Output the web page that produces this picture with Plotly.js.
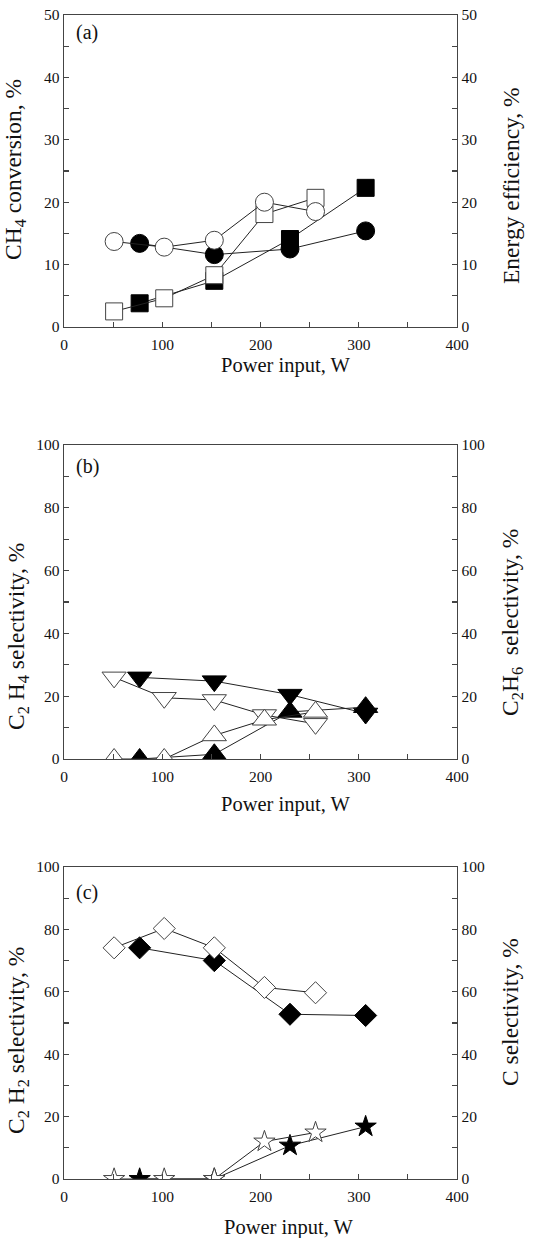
<!DOCTYPE html>
<html><head><meta charset="utf-8">
<script src="https://cdn.plot.ly/plotly-3.0.1.min.js"></script>
<style>html,body{margin:0;padding:0;background:#fff;}#chart{width:541px;height:1238px;}</style>
</head><body><div id="chart"></div>
<script>
// ---- data ----
const powerOpen = [51, 102, 153, 204, 256];
const powerFilled = [77, 153, 230, 307];

// panel (a)
const ch4ConvOpen = [2.5, 4.6, 8.3, 18.1, 20.7];
const ch4ConvFilled = [3.8, 7.4, 14.1, 22.3];
const energyEffOpen = [13.7, 12.8, 13.9, 20.0, 18.5];
const energyEffFilled = [13.4, 11.6, 12.5, 15.4];

// panel (b)
const c2h4SelOpen = [26.0, 19.5, 18.8, 14.0, 11.2];
const c2h4SelFilled = [26.0, 24.8, 20.5, 14.5];
const c2h6SelOpen = [0, 0, 7.5, 12.5, 15.0];
const c2h6SelFilled = [0, 1.5, 15.0, 16.5];

// panel (c)
const c2h2SelOpen = [74.1, 80.3, 74.1, 61.4, 59.7];
const c2h2SelFilled = [74.1, 70.0, 52.8, 52.4];
const cSelOpen = [0, 0, 0, 12.0, 14.9];
const cSelFilled = [0, 0, 10.7, 16.8];

const panelLabels = ['(a)', '(b)', '(c)'];
const xTitle = 'Power input, W';
const yTitlesLeft = ['CH<sub>4</sub> conversion, %', 'C<sub>2</sub> H<sub>4</sub> selectivity, %', 'C<sub>2</sub> H<sub>2</sub> selectivity, %'];
const yTitlesRight = ['Energy efficiency, %', 'C<sub>2</sub>H<sub>6</sub>  selectivity, %', 'C selectivity, %'];

// ---- styling / geometry ----
const FONT = 'Liberation Serif, Times New Roman, serif';
const W = 541, H = 1238, ML = 64, MR = 84, MT = 15, MB = 59;
const PW = W - ML - MR, PH = H - MT - MB;
const px = v => (v - ML) / PW;
const py = v => (H - MB - v) / PH;
const AX = '#444';

function mk(x, y, xa, ya, symbol, filled, size) {
  return {
    x: x, y: y, xaxis: xa, yaxis: ya, type: 'scatter', mode: 'lines+markers',
    line: {color: '#222', width: 1},
    marker: {symbol: symbol, size: size, color: filled ? '#000' : '#fff',
             line: {color: filled ? '#000' : '#444', width: 1}},
    showlegend: false, hoverinfo: 'skip'
  };
}

const traces = [
  mk(powerFilled, ch4ConvFilled, 'x', 'y', 'square', true, 17),
  mk(powerFilled, energyEffFilled, 'x', 'y2', 'circle', true, 18),
  mk(powerOpen, ch4ConvOpen, 'x', 'y', 'square', false, 17),
  mk(powerOpen, energyEffOpen, 'x', 'y2', 'circle', false, 18),

  mk(powerFilled, c2h4SelFilled, 'x2', 'y3', 'triangle-down', true, 21),
  mk(powerFilled, c2h6SelFilled, 'x2', 'y4', 'triangle-up', true, 21),
  mk(powerOpen, c2h4SelOpen, 'x2', 'y3', 'triangle-down', false, 21),
  mk(powerOpen, c2h6SelOpen, 'x2', 'y4', 'triangle-up', false, 21),

  mk(powerFilled, c2h2SelFilled, 'x3', 'y5', 'diamond', true, 17),
  mk(powerFilled, cSelFilled, 'x3', 'y6', 'star', true, 16),
  mk(powerOpen, c2h2SelOpen, 'x3', 'y5', 'diamond', false, 17),
  mk(powerOpen, cSelOpen, 'x3', 'y6', 'star', false, 16)
];

const tickFont = {family: FONT, size: 15.5, color: '#111'};
function xa(anchor) {
  return {domain: [0, 1], anchor: anchor, range: [0, 400], dtick: 100, tick0: 0,
          showline: true, mirror: true, linecolor: AX, linewidth: 1.3,
          ticks: 'inside', ticklen: 5, tickcolor: AX, tickwidth: 1.2,
          minor: {dtick: 50, ticks: 'inside', ticklen: 5, tickcolor: AX, tickwidth: 1.2},
          ticklabelstandoff: 3,
          showgrid: false, zeroline: false, tickfont: tickFont, fixedrange: true};
}
function ya(domain, anchor, rng, dt, side, overlay) {
  const o = {anchor: anchor, range: rng, dtick: dt, tick0: 0, side: side,
          showline: true, linecolor: AX, linewidth: 1.3,
          ticks: 'inside', ticklen: 5, tickcolor: AX, tickwidth: 1.2,
          minor: {dtick: dt / 2, ticks: 'inside', ticklen: 5, tickcolor: AX, tickwidth: 1.2},
          showgrid: false, zeroline: false, tickfont: tickFont, fixedrange: true};
  if (overlay) o.overlaying = overlay; else o.domain = domain;
  return o;
}
const domA = [py(327), py(15)], domB = [py(759), py(445)], domC = [py(1179), py(867)];

const ann = [];
function addAnn(text, x, y, size, angle) {
  ann.push({text: text, xref: 'paper', yref: 'paper', x: px(x), y: py(y),
            xanchor: 'center', yanchor: 'middle', showarrow: false,
            textangle: angle || 0, font: {family: FONT, size: size, color: '#111'}});
}
addAnn(panelLabels[0], 87, 33, 20);
addAnn(panelLabels[1], 87, 467, 20);
addAnn(panelLabels[2], 87, 892, 20);
addAnn(xTitle, 286, 365, 20.5);
addAnn(xTitle, 286, 804, 20.5);
addAnn(xTitle, 289, 1227, 20.5);
addAnn(yTitlesLeft[0], 15, 170, 23.5, -90);
addAnn(yTitlesLeft[1], 18, 637, 23.5, -90);
addAnn(yTitlesLeft[2], 18, 1041, 23.5, -90);
addAnn(yTitlesRight[0], 511, 186, 23.5, -90);
addAnn(yTitlesRight[1], 512, 623, 23.5, -90);
addAnn(yTitlesRight[2], 510, 1012, 23.5, -90);

const layout = {
  width: W, height: H, margin: {l: ML, r: MR, t: MT, b: MB},
  paper_bgcolor: '#fff', plot_bgcolor: '#fff', showlegend: false,
  font: {family: FONT, color: '#111'},
  xaxis: xa('y'), xaxis2: xa('y3'), xaxis3: xa('y5'),
  yaxis: ya(domA, 'x', [0, 50], 10, 'left'),
  yaxis2: ya(null, 'x', [0, 50], 10, 'right', 'y'),
  yaxis3: ya(domB, 'x2', [0, 100], 20, 'left'),
  yaxis4: ya(null, 'x2', [0, 100], 20, 'right', 'y3'),
  yaxis5: ya(domC, 'x3', [0, 100], 20, 'left'),
  yaxis6: ya(null, 'x3', [0, 100], 20, 'right', 'y5'),
  annotations: ann
};
Plotly.newPlot('chart', traces, layout, {staticPlot: true, displayModeBar: false});
</script></body></html>
